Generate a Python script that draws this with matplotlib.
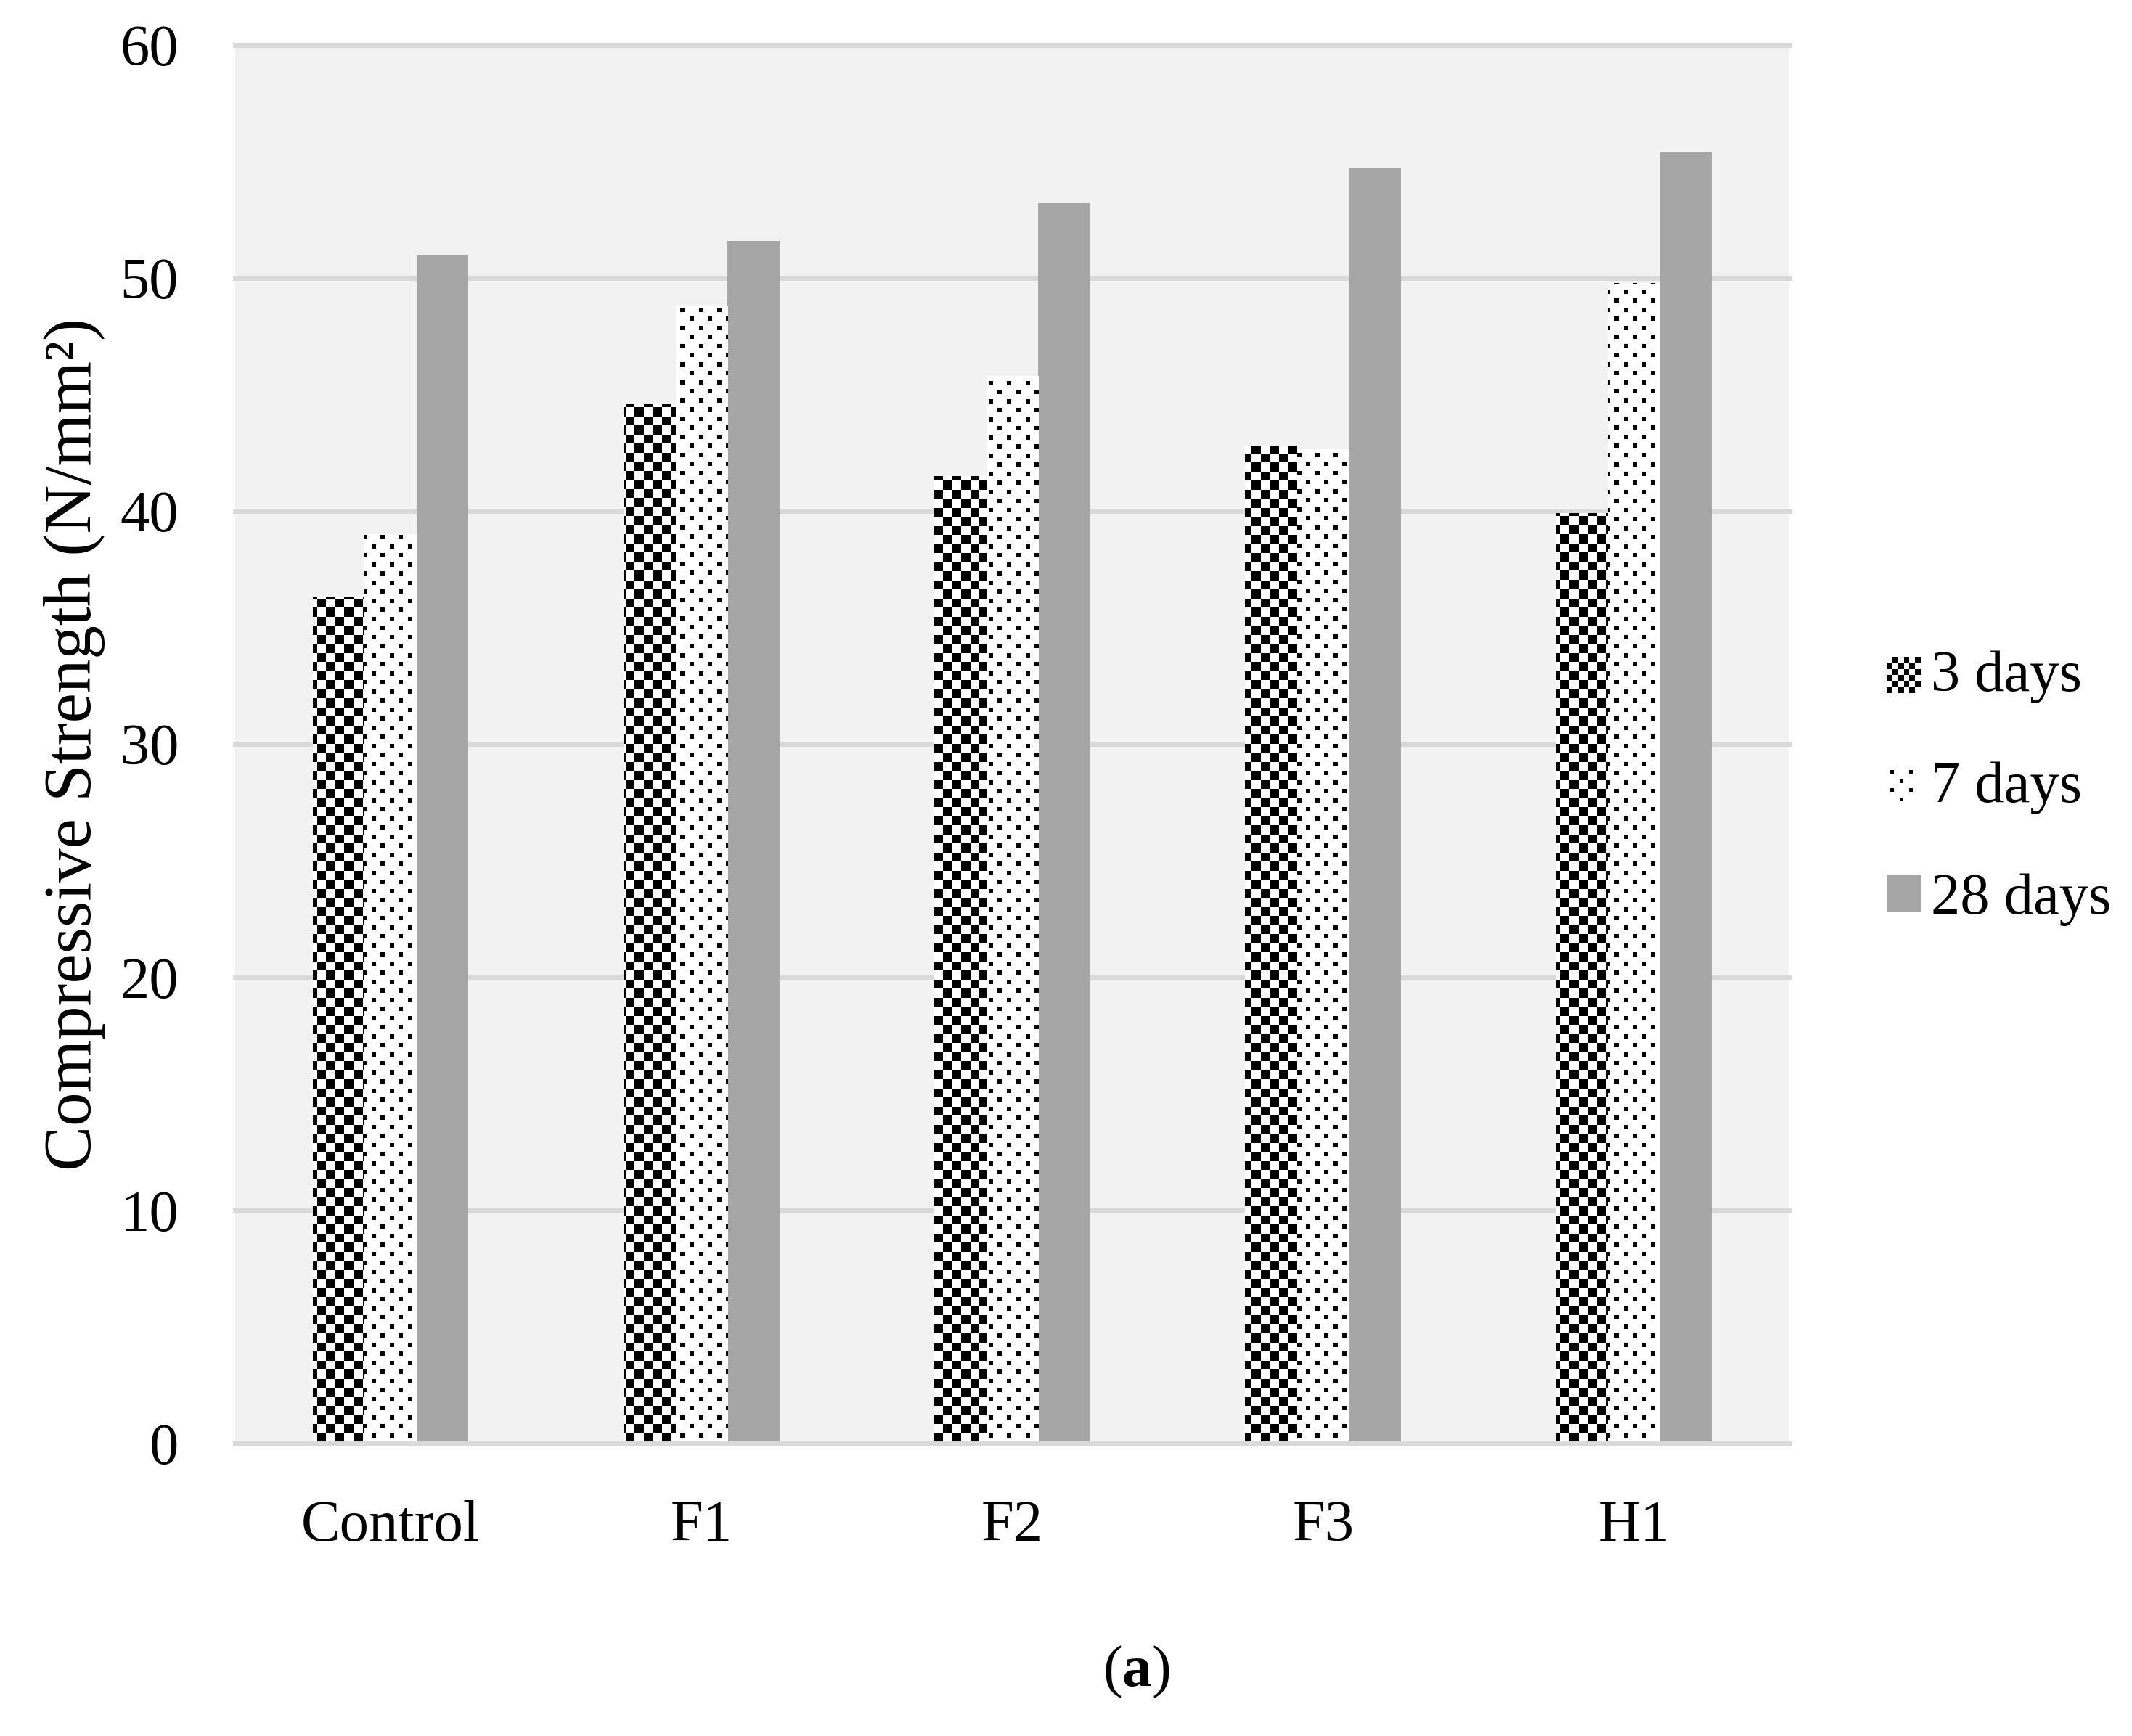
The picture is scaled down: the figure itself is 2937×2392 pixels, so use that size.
import numpy as np
import matplotlib
matplotlib.use('Agg')
import matplotlib.pyplot as plt
from matplotlib.patches import Rectangle, Patch

plt.rcParams['font.family'] = ['Liberation Serif', 'DejaVu Serif']
plt.rcParams['mathtext.fontset'] = 'custom'
plt.rcParams['mathtext.rm'] = 'Liberation Serif'
plt.rcParams['mathtext.bf'] = 'Liberation Serif:bold'

# dados
mixes = ['Control', 'F1', 'F2', 'F3', 'H1']
dias_3 = [36.3, 44.6, 41.5, 42.8, 39.9]
dias_7 = [39.0, 48.8, 45.8, 42.7, 49.8]
dias_28 = [51.0, 51.6, 53.2, 54.7, 55.4]
series_labels = ['3 days', '7 days', '28 days']
y_ticks = [0, 10, 20, 30, 40, 50, 60]

DPI = 200
W_PX, H_PX = 2937, 2392
fig = plt.figure(figsize=(W_PX / DPI, H_PX / DPI), dpi=DPI)
ax_l, ax_b, ax_w, ax_h = 0.1103, 0.1685, 0.7290, 0.8056
ax = fig.add_axes([ax_l, ax_b, ax_w, ax_h])
ax.set_facecolor('#f2f2f2')

# padrões em pixels (xadrez e pontos)
nx = int(round(ax_w * W_PX))
ny = int(round(ax_h * H_PX))
ix, iy = np.meshgrid(np.arange(nx), np.arange(ny))
cell = 12.5
xadrez = ((ix // cell + iy // cell) % 2 == 0)
img_xadrez = np.where(xadrez, 0.0, 1.0)
per = 25.0
tam = 6
pontos = (((ix % per) < tam) & ((iy % per) < tam)) | ((((ix + 12.5) % per) < tam) & (((iy + 12.5) % per) < tam))
img_pontos = np.where(pontos, 0.0, 1.0)

x = np.arange(len(mixes))
largura = 0.167

bars3 = ax.bar(x - largura, dias_3, largura, color='white', edgecolor='none', zorder=2)
bars7 = ax.bar(x, dias_7, largura, color='white', edgecolor='none', zorder=2)
bars28 = ax.bar(x + largura, dias_28, largura, color='#a6a6a6', edgecolor='none', zorder=2)

for barras, img in [(bars3, img_xadrez), (bars7, img_pontos)]:
    for b in barras:
        im = ax.imshow(img, cmap='gray', vmin=0, vmax=1, extent=(-0.5, 4.5, 0, 60),
                       aspect='auto', interpolation='nearest', zorder=2.1)
        im.set_clip_path(b)

ax.set_xlim(-0.5, 4.5)
ax.set_ylim(0, 60)
ax.set_yticks(y_ticks)
ax.set_xticks(x)
ax.set_xticklabels(mixes)
ax.yaxis.grid(True, color='#d9d9d9', linewidth=2.5)
ax.set_axisbelow(True)
for gl in ax.get_ygridlines():
    gl.set_clip_on(False)
for s in ['top', 'right', 'left']:
    ax.spines[s].set_visible(False)
ax.spines['bottom'].set_color('#d9d9d9')
ax.spines['bottom'].set_linewidth(2.5)
ax.spines['bottom'].set_zorder(3)
ax.tick_params(axis='y', length=0, pad=28, labelsize=29)
ax.tick_params(axis='x', length=0, pad=28, labelsize=29)

ax.set_ylabel('Compressive Strength (N/mm²)', fontsize=33.5)
ax.yaxis.set_label_coords(-0.0836, 0.5)


# legenda com padrões
class XadrezHandler:
    def legend_artist(self, legend, orig_handle, fontsize, handlebox):
        x0, y0 = handlebox.xdescent, handlebox.ydescent
        w, h = handlebox.width, handlebox.height
        tr = handlebox.get_transform()
        fundo = Rectangle((x0, y0), w, h, facecolor='white', edgecolor='none', transform=tr)
        handlebox.add_artist(fundo)
        n = 6
        for i in range(n):
            for j in range(n):
                if (i + j) % 2 == 0:
                    handlebox.add_artist(Rectangle((x0 + i * w / n, y0 + j * h / n), w / n, h / n,
                                                   facecolor='black', edgecolor='none', transform=tr))
        return fundo


class PontosHandler:
    def legend_artist(self, legend, orig_handle, fontsize, handlebox):
        x0, y0 = handlebox.xdescent, handlebox.ydescent
        w, h = handlebox.width, handlebox.height
        tr = handlebox.get_transform()
        fundo = Rectangle((x0, y0), w, h, facecolor='white', edgecolor='none', transform=tr)
        handlebox.add_artist(fundo)
        d = w * 0.11
        for j in range(4):
            off = 0.0 if j % 2 == 0 else w * 0.27
            for k in range(2):
                px = x0 + w * 0.1 + off + k * w * 0.55
                if px + d <= x0 + w:
                    handlebox.add_artist(Rectangle((px, y0 + h * 0.85 - j * h * 0.25), d, d,
                                                   facecolor='black', edgecolor='none', transform=tr))
        return fundo


h3 = Patch(facecolor='white')
h7 = Patch(facecolor='white')
h28 = Patch(facecolor='#a6a6a6', edgecolor='none')
fig.legend([h3, h7, h28], series_labels, loc='center left', bbox_to_anchor=(0.885, 0.546),
           frameon=False, fontsize=29, handlelength=0.58, handleheight=0.58,
           handletextpad=0.18, labelspacing=1.0, borderpad=0, borderaxespad=0,
           handler_map={h3: XadrezHandler(), h7: PontosHandler()})

fig.text(0.533, 0.037, r'($\mathbf{a}$)', ha='center', va='center', fontsize=29)

fig.savefig('out.png', dpi=DPI, facecolor='white')
